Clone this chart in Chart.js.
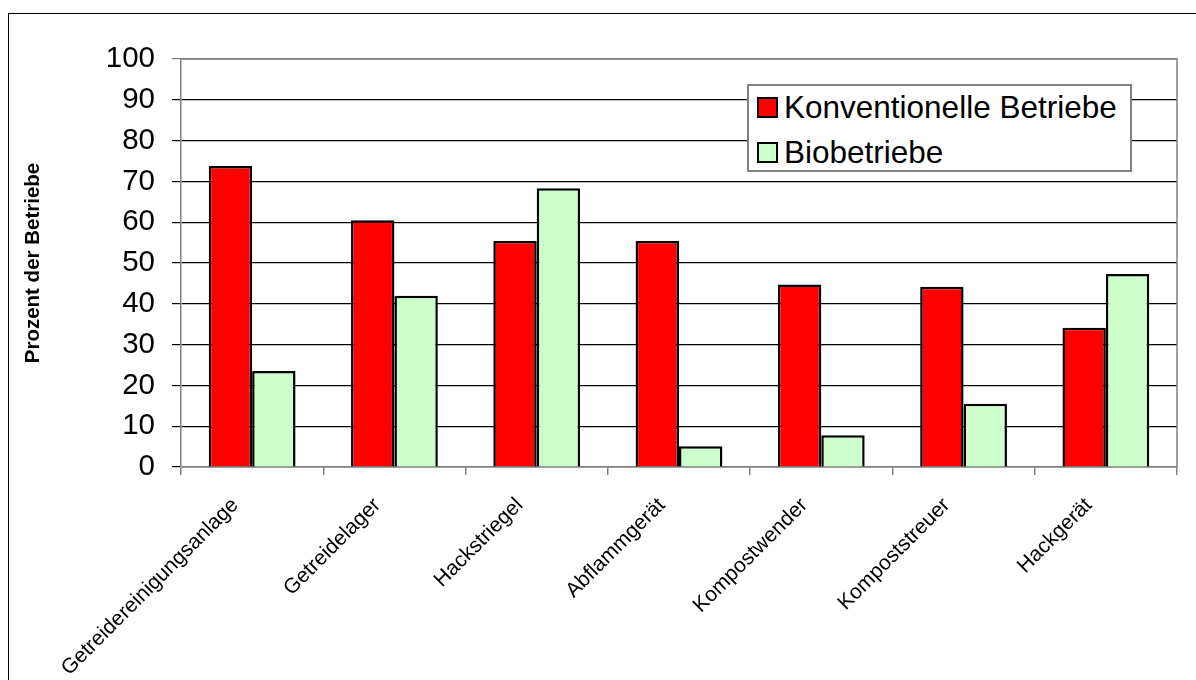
<!DOCTYPE html>
<html>
<head>
<meta charset="utf-8">
<script src="https://cdn.jsdelivr.net/npm/chart.js@4/dist/chart.umd.min.js"></script>
<style>
  html, body { margin: 0; padding: 0; background: #fff; }
  body { width: 1196px; height: 680px; position: relative; overflow: hidden; font-family: "Liberation Sans", Arial, sans-serif; }
  #frame { position: absolute; left: 8px; top: 13px; width: 1220px; height: 720px; border: 1.5px solid #000; }
  #wrap { position: absolute; left: 0; top: 0; width: 1196px; height: 680px; }
  #legend { position: absolute; left: 747px; top: 84px; width: 381px; height: 84px; border: 2px solid #808080; background: #fff; }
  .item { position: absolute; left: 8px; height: 34px; display: flex; align-items: center; font-size: 31.5px; color: #000; white-space: nowrap; }
  .item span.box { width: 17px; height: 17px; border: 2px solid #000; margin-right: 6px; }
</style>
</head>
<body>
<div id="frame"></div>
<div id="wrap"><canvas id="chart" width="1196" height="680"></canvas></div>
<div id="legend"></div>
<script>
// --- DATA ---
const categories = ['Getreidereinigungsanlage', 'Getreidelager', 'Hackstriegel', 'Abflammgerät', 'Kompostwender', 'Kompoststreuer', 'Hackgerät'];
const konventionell = [73.8, 60.5, 55.4, 55.4, 44.7, 44.2, 34.1];
const bio = [23.5, 42.0, 68.3, 5.1, 7.8, 15.5, 47.3];
const seriesNames = ['Konventionelle Betriebe', 'Biobetriebe'];
const seriesColors = ['#ff0000', '#ccffcc'];
const yTicks = [0, 10, 20, 30, 40, 50, 60, 70, 80, 90, 100];

// gray border round the plot area (Excel style)
const plotBorder = {
    id: 'plotBorder',
    afterDatasetsDraw(chart) {
        const a = chart.chartArea;
        const c = chart.ctx;
        c.save();
        c.strokeStyle = '#808080';
        c.lineWidth = 1.5;
        c.beginPath();
        c.moveTo(a.left, a.top);
        c.lineTo(a.right, a.top);
        c.lineTo(a.right, a.bottom);
        c.stroke();
        c.restore();
    }
};

const ctx = document.getElementById('chart');
const chart = new Chart(ctx, {
    type: 'bar',
    data: {
        labels: categories,
        datasets: [
            { label: seriesNames[0], data: konventionell, backgroundColor: seriesColors[0], borderColor: '#000', borderWidth: 2.5 },
            { label: seriesNames[1], data: bio, backgroundColor: seriesColors[1], borderColor: '#000', borderWidth: 2.5 }
        ]
    },
    options: {
        responsive: false,
        animation: false,
        events: [],
        layout: { padding: { top: 59, right: 19, left: 0, bottom: 0 } },
        datasets: { bar: { categoryPercentage: 0.61, barPercentage: 1.0 } },
        plugins: { legend: { display: false }, tooltip: { enabled: false } },
        scales: {
            x: {
                afterFit: s => { s.height = 213; },
                grid: { drawOnChartArea: false, drawTicks: true, tickLength: 8, color: '#808080', lineWidth: 1.5 },
                border: { color: '#808080', width: 1.5 },
                ticks: {
                    color: '#000', minRotation: 45, maxRotation: 45, autoSkip: false,
                    labelOffset: -17, padding: 18,
                    font: { family: '"Liberation Sans", Arial, sans-serif', size: 21 }
                }
            },
            y: {
                min: 0, max: 100,
                afterFit: s => { s.width = 181; },
                afterBuildTicks: s => { s.ticks = yTicks.map(v => ({ value: v })); },
                grid: {
                    color: c => (c.tick && c.tick.value === 100) ? '#808080' : '#000',
                    lineWidth: 1.2, tickLength: 9, drawTicks: true
                },
                border: { color: '#808080', width: 1.5 },
                ticks: {
                    color: '#000', padding: 17,
                    font: { family: '"Liberation Sans", Arial, sans-serif', size: 29.5 }
                },
                title: {
                    display: true, text: 'Prozent der Betriebe', color: '#000',
                    padding: { top: 21, bottom: 0 },
                    font: { family: '"Liberation Sans", Arial, sans-serif', size: 20.5, weight: 'bold' }
                }
            }
        }
    },
    plugins: [plotBorder]
});

// legend built from the datasets
const legend = document.getElementById('legend');
chart.data.datasets.forEach((ds, i) => {
    const row = document.createElement('div');
    row.className = 'item';
    row.style.top = (4 + i * 45) + 'px';
    row.innerHTML = '<span class="box" style="background:' + ds.backgroundColor + '"></span>' + ds.label;
    legend.appendChild(row);
});
</script>
</body>
</html>
